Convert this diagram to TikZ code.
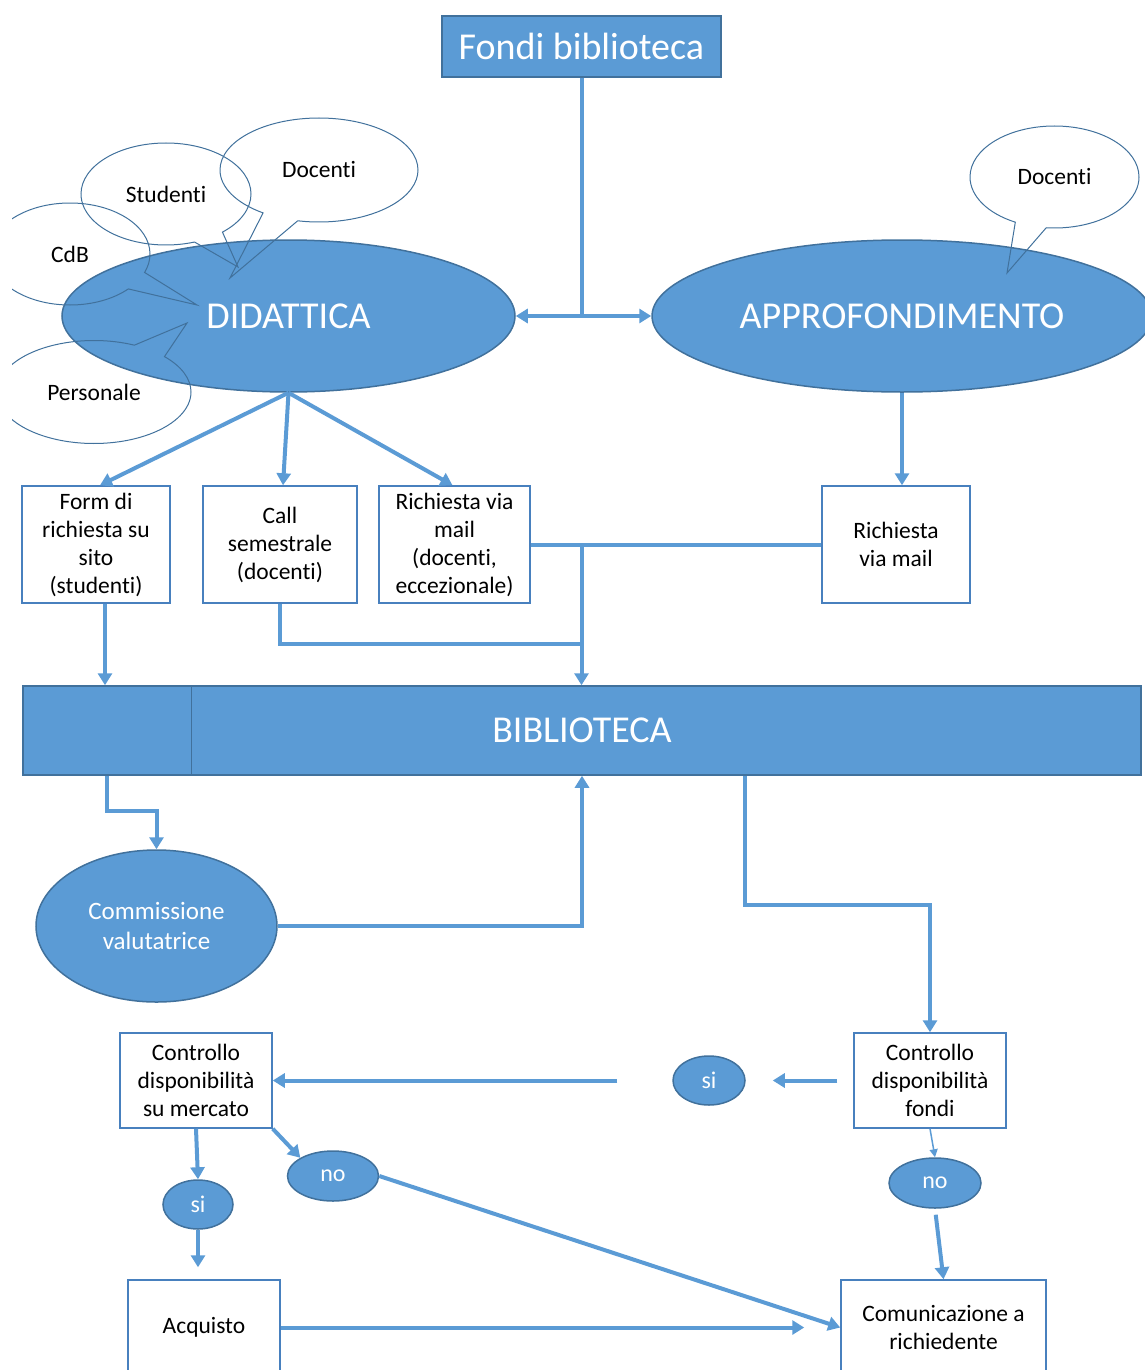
\documentclass[tikz,border=0pt]{standalone}
\usepackage{fontspec}
\setmainfont{Carlito}[Ligatures=NoCommon]
\usetikzlibrary{positioning,calc,shapes,shapes.callouts,arrows.meta}
\definecolor{azzurro}{RGB}{91,155,213}
\definecolor{bordo}{RGB}{65,113,156}
\definecolor{bordobox}{RGB}{72,128,190}

\begin{document}
\begin{tikzpicture}[x=1pt,y=-1pt,>={Triangle[length=12pt,width=14pt]}]
  \tikzstyle{every node}=[inner sep=0,align=center]
  \tikzstyle{blu}=[fill=azzurro,draw=bordo,line width=1.5,text=white]
  \tikzstyle{grande}=[blu,font=\fontsize{38}{44}\selectfont]
  \tikzstyle{tondo}=[blu,ellipse,font=\fontsize{24}{30}\selectfont]
  \tikzstyle{riq}=[rectangle,draw=bordobox,fill=white,line width=1.5,font=\fontsize{23.5}{28}\selectfont]
  \tikzstyle{fumetto}=[ellipse callout,draw=bordo,line width=1,callout pointer arc=22,font=\fontsize{23.5}{28}\selectfont]
  \tikzstyle{linea}=[azzurro,line width=4]
  \clip (0,0) rectangle (1145,1370);

  \node[grande,rectangle,minimum width=279,minimum height=61] (fondi) at (581.5,46.5) {Fondi biblioteca};
  \node[grande,ellipse,minimum width=453,minimum height=152] (didattica) at (288.5,316) {DIDATTICA};
  \node[grande,ellipse,minimum width=500,minimum height=152] (approf) at (902,316) {APPROFONDIMENTO};

  % chi chiede
  {
    \clip (12,0) rectangle (1145,1370);
    \node[fumetto,minimum width=170,minimum height=102,callout absolute pointer={(238,267)}] (studenti) at (166,194) {Studenti};
    \node[fumetto,minimum width=198,minimum height=104,callout absolute pointer={(230,278)}] (docenti) at (319,170) {Docenti};
    \node[fumetto,minimum width=160,minimum height=102,callout absolute pointer={(197,305)}] (cdb) at (70,254) {CdB};
    \node[fumetto,minimum width=194,minimum height=103,callout absolute pointer={(187,323)}] (personale) at (94,392) {Personale};
    \node[fumetto,minimum width=169,minimum height=102,callout absolute pointer={(1007,273)}] (docenti2) at (1054.5,177) {Docenti};
  }

  \node[riq,minimum width=148,minimum height=117] (form) at (96,544.5) {Form di\\richiesta su\\sito\\(studenti)};
  \node[riq,minimum width=154,minimum height=117] (call) at (280,544.5) {Call\\semestrale\\(docenti)};
  \node[riq,minimum width=151,minimum height=117] (rich) at (454.5,544.5) {Richiesta via\\mail\\(docenti,\\eccezionale)};
  \node[riq,minimum width=148,minimum height=117] (mail) at (896,544.5) {Richiesta\\via mail};

  \node[grande,rectangle,minimum width=1118,minimum height=89] (bib) at (582,730.5) {BIBLIOTECA};
  \draw[bordo,line width=1] (bib.north -| 191,0) -- (bib.south -| 191,0);

  \node[tondo,minimum width=241,minimum height=152,font=\fontsize{25}{30}\selectfont] (comm) at (156.5,926) {Commissione\\valutatrice};

  \node[riq,minimum width=152,minimum height=95] (cmerc) at (196,1080.5) {Controllo\\disponibilità\\su mercato};
  \node[riq,minimum width=152,minimum height=95] (cfondi) at (930,1080.5) {Controllo\\disponibilità\\fondi};
  \node[tondo,minimum width=72,minimum height=49] (si1) at (709,1080.5) {si};
  \node[tondo,minimum width=92,minimum height=50] (no1) at (935,1183) {no};
  \node[tondo,minimum width=70,minimum height=49] (si2) at (198,1204.5) {si};
  \node[tondo,minimum width=91,minimum height=50] (no2) at (333,1176) {no};
  \node[riq,minimum width=152,minimum height=95] (acq) at (204,1327.5) {Acquisto};
  \node[riq,minimum width=205,minimum height=95] (comun) at (943.5,1327.5) {Comunicazione a\\richiedente};

  \coordinate (fbot) at ([xshift=9pt]form.south);
  \coordinate (incrocio) at (581.5,644);

  \draw[linea] (fondi.south) -- (fondi.south |- didattica.east);
  \draw[linea,<->] (didattica.east) -- (approf.west);
  \path[linea,->]
    (didattica.south) edge ([xshift=4pt]form.north)
    (didattica.south) edge ([xshift=3pt]call.north)
    (didattica.south) edge ([xshift=-2pt]rich.north)
    (approf.south) edge (approf.south |- mail.north);

  \draw[linea,->] (fbot) -- (fbot |- bib.north);
  \draw[linea] (call.south) |- (incrocio);
  \draw[linea] (rich.east) -- (mail.west);
  \draw[linea,->] (rich.east -| fondi.south) -- (fondi.south |- bib.north);

  \draw[linea,->] (bib.south -| 107,0) -- ++(0,35) -| (comm.north);
  \draw[linea,->] (comm.east) -| (bib.south);
  \draw[linea,->] (bib.south -| 745,0) -- ++(0,129) -| (cfondi.north);

  \draw[linea,->,shorten <=16pt,shorten >=27pt] (cfondi.west) -- (si1.east);
  \draw[linea,->,shorten <=55pt] (si1.west) -- (cmerc.east);
  \draw[azzurro,line width=1.5,-{Triangle[length=8pt,width=8pt]}] (cfondi.south) -- (no1.north);
  \draw[linea,->,shorten <=6pt] (no1.south) -- (comun.north);
  \draw[linea,->] (cmerc.south) -- (si2.north);
  \draw[linea,->,shorten >=12pt] (si2.south) -- (si2.south |- acq.north);
  \draw[linea,->] (cmerc.south east) -- (no2.north west);
  \draw[linea,->] (no2.east) -- (comun.west);
  \draw[linea,->,shorten >=36pt] (acq.east) -- (comun.west |- acq.east);
\end{tikzpicture}
\end{document}
